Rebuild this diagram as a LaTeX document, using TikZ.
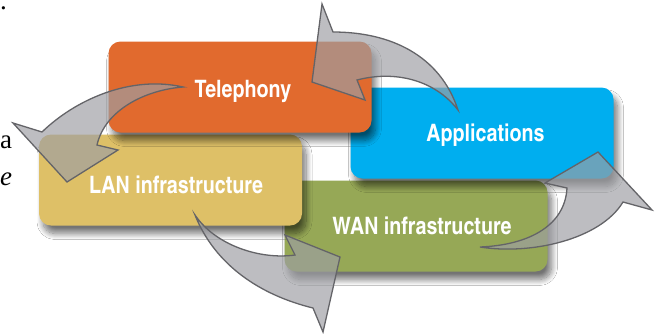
\documentclass[tikz,border=0pt]{standalone}
\usepackage{fontspec}
\setmainfont{Liberation Serif}
\newfontfamily\labelfont{TeX Gyre Heros Cn}
\usetikzlibrary{shadows.blur}

\definecolor{telcol}{RGB}{225,106,46}
\definecolor{appcol}{RGB}{0,174,239}
\definecolor{lancol}{RGB}{222,192,103}
\definecolor{wancol}{RGB}{150,168,86}
\definecolor{arrowgray}{RGB}{157,158,163}
\definecolor{arrowline}{RGB}{100,100,104}

\begin{document}
\begin{tikzpicture}[x=1pt,y=-1pt,
  panel/.style={rounded corners=12pt, inner sep=0pt,
    minimum width=263pt, minimum height=91pt,
    blur shadow={shadow xshift=4pt, shadow yshift=-8pt,
      shadow blur radius=6pt, shadow blur steps=12, shadow opacity=55}},
  lbl/.style={text=white, anchor=base, inner sep=0pt,
    font=\labelfont\bfseries\fontsize{24}{26}\selectfont},
  cyc/.style={fill=arrowgray, fill opacity=0.67, draw=arrowline,
    line width=1.3pt, line join=miter},
  frag/.style={inner sep=0pt, font=\fontsize{27}{30}\selectfont}]

\path[fill=white] (0,0) rectangle (660,333);
\useasboundingbox (0,0) rectangle (660,333);

% words of the surrounding text at the left margin
\node[frag, anchor=base west] (dot) at (0,9) {.};
\node[frag, anchor=base west] (fa) at (0,148) {a};
\node[frag, anchor=base west] (fe) at (0,185) {\itshape e};

% the four panels, back to front
\node[panel, fill=wancol] (wan) at (416,226) {};
\node[panel, fill=appcol] (app) at (482,133) {};
\node[panel, fill=lancol] (lan) at (170.5,180) {};
\node[panel, fill=telcol] (tel) at (240,87) {};

\node[lbl] (wanl) at (422,234) {WAN infrastructure};
\node[lbl] (appl) at (485.5,141) {Applications};
\node[lbl] (lanl) at (176,193) {LAN infrastructure};
\node[lbl] (tell) at (243,97) {Telephony};

% curved block arrows of the cycle
% Applications -> Telephony
\path[cyc] (458,110) .. controls (440,55) and (390,32) .. (333,32)
  -- (322,4) -- (312,82) -- (365,100) -- (357,80)
  .. controls (395,70) and (435,80) .. (458,110) -- cycle;
% Telephony -> LAN infrastructure
\path[cyc] (183,87) .. controls (130,75) and (75,100) .. (42,132)
  -- (13,123) -- (67,182) -- (118,150) -- (97,145)
  .. controls (105,110) and (145,90) .. (183,87) -- cycle;
% LAN infrastructure -> WAN infrastructure
\path[cyc] (195,215) .. controls (215,245) and (260,260) .. (295,255)
  -- (285,235) -- (340,257) -- (323,332) -- (313,308)
  .. controls (260,295) and (215,265) .. (195,215) -- cycle;
% WAN infrastructure -> Applications
\path[cyc] (480,247) .. controls (530,245) and (565,225) .. (567,188)
  -- (545,183) -- (598,152) -- (652,210) -- (623,202)
  .. controls (600,240) and (530,255) .. (480,247) -- cycle;
\end{tikzpicture}
\end{document}
